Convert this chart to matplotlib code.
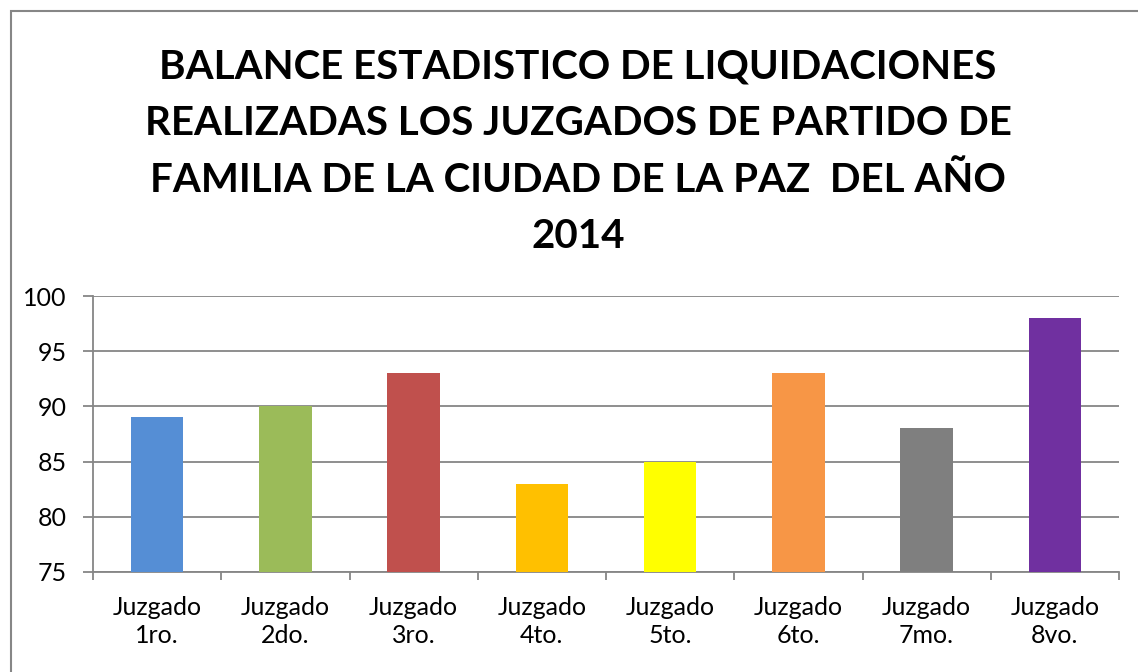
import numpy as np
import matplotlib.pyplot as plt
from matplotlib.patches import Rectangle

# Données
juzgados = ['Juzgado\n1ro.', 'Juzgado\n2do.', 'Juzgado\n3ro.', 'Juzgado\n4to.',
            'Juzgado\n5to.', 'Juzgado\n6to.', 'Juzgado\n7mo.', 'Juzgado\n8vo.']
liquidaciones = [89, 90, 93, 83, 85, 93, 88, 98]
colores = ['#558ED5', '#9BBB59', '#C0504D', '#FFC000',
           '#FFFF00', '#F79646', '#7F7F7F', '#7030A0']
titulo = ('BALANCE ESTADISTICO DE LIQUIDACIONES\n'
          'REALIZADAS LOS JUZGADOS DE PARTIDO DE\n'
          'FAMILIA DE LA CIUDAD DE LA PAZ  DEL AÑO\n'
          '2014')

plt.rcParams['font.family'] = ['Lato', 'DejaVu Sans']

fig = plt.figure(figsize=(11.38, 6.72), dpi=100)
W, H = 1138, 672

# cadre du graphique
fig.patches.append(Rectangle((11 / W, -0.1), 1.2, (H - 11) / H + 0.1,
                             transform=fig.transFigure, fill=False,
                             edgecolor='#868686', linewidth=1.5))

ax = fig.add_axes([93 / W, 1 - 572 / H, (1119 - 93) / W, (572 - 296) / H])
x = np.arange(len(juzgados))
ax.bar(x, [v - 75 for v in liquidaciones], bottom=75, width=0.41,
       color=colores, zorder=3)

ax.set_xlim(-0.5, len(juzgados) - 0.5)
ax.set_ylim(75, 100)
ax.set_yticks(np.arange(75, 101, 5))
ax.yaxis.grid(True, color='#868686', linewidth=1.3, zorder=0)

# ticks entre les catégories
ax.set_xticks(np.arange(-0.5, len(juzgados), 1))
ax.set_xticklabels([])
ax.set_xticks(x, minor=True)
ax.set_xticklabels(juzgados, minor=True, fontsize=18, linespacing=1.3)
ax.tick_params(axis='x', which='minor', length=0, pad=17)
ax.tick_params(axis='x', which='major', length=6, width=1.3, color='#868686')
ax.tick_params(axis='y', length=7, width=1.3, color='#868686', labelsize=18, pad=12)

for s in ['top', 'right']:
    ax.spines[s].set_visible(False)
for s in ['left', 'bottom']:
    ax.spines[s].set_color('#868686')
    ax.spines[s].set_linewidth(1.3)

fig.text(578 / W, 1 - 152 / H, titulo, ha='center', va='center',
         fontsize=29, fontweight='bold', linespacing=1.65)

fig.savefig('out.png', dpi=100)
